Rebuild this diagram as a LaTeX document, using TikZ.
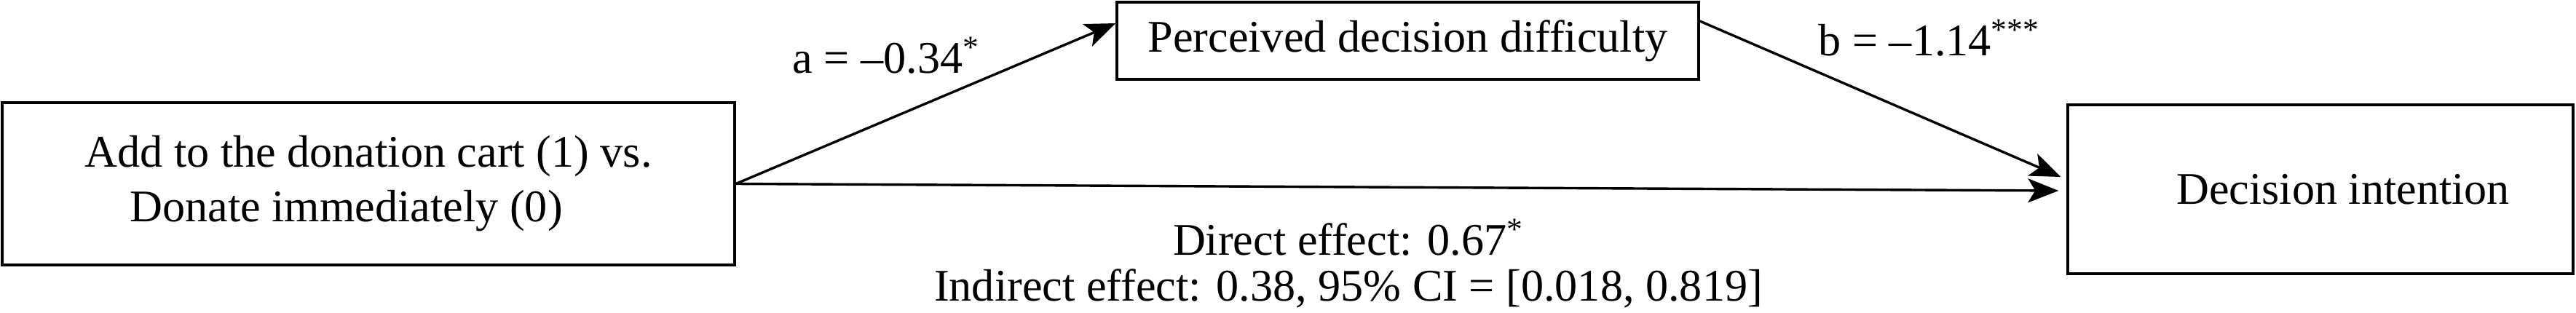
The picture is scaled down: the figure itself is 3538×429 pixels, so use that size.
\documentclass[tikz,border=0pt]{standalone}
\usepackage{fontspec}
\setmainfont{Liberation Serif}
\usetikzlibrary{arrows.meta}

\begin{document}
\begin{tikzpicture}[x=0.25pt, y=-0.25pt, line width=0.85pt,
  font=\fontsize{15.55pt}{18.75pt}\selectfont,
  box/.style={draw, inner sep=0pt, align=center},
  conn/.style={-{Stealth[length=10.5pt, width=8.25pt, inset=2.5pt]}},
  coef/.style={anchor=base west, inner sep=0pt},
  effect/.style={anchor=base, inner sep=0pt}]
  \useasboundingbox (0,0) rectangle (3538,429);
  % variables
  \node[box, minimum width=251.5pt, minimum height=55.75pt, align=left] (cart) at (506,252.5)
    {Add to the donation cart (1) vs.\\\hspace*{15.5pt}Donate immediately (0)};
  \node[box, minimum width=199.75pt, minimum height=26.5pt] (difficulty) at (1933.5,56)
    {Perceived decision difficulty};
  \node[box, minimum width=173.5pt, minimum height=58pt] (intention) at (3187,260)
    {\hspace*{15.5pt}Decision intention};
  % paths
  \draw[conn] (cart.east) -- ([yshift=6pt]difficulty.west);
  \draw[conn] ([yshift=6.75pt]difficulty.east) -- ([xshift=-2pt, yshift=4.25pt]intention.west);
  \draw[conn] (cart.east) -- ([xshift=-2.75pt, yshift=-0.5pt]intention.west);
  % coefficients
  \node[coef] (apath) at (1087,100) {a = –0.34\textsuperscript{*}};
  \node[coef] (bpath) at (2496,76) {b = –1.14\textsuperscript{***}};
  \node[effect] (direct) at (1852,350) {Direct effect: 0.67\textsuperscript{*}};
  \node[effect] (indirect) at (1852,413) {Indirect effect: 0.38, 95\% CI = [0.018, 0.819]};
\end{tikzpicture}
\end{document}
